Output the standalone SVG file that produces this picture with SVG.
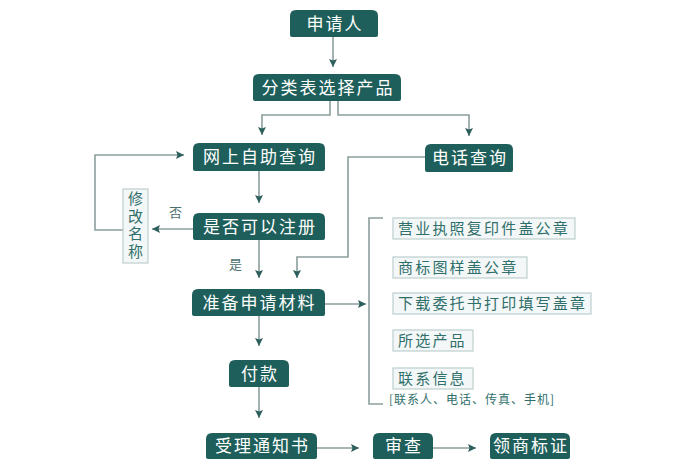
<svg xmlns="http://www.w3.org/2000/svg" width="700" height="470" viewBox="0 0 700 470">
<defs>
<style>
.box{fill:#1f5f5b}
.bt{fill:#ffffff;font-family:"Noto Sans CJK SC","Noto Sans",sans-serif;font-size:17px;letter-spacing:2px;text-anchor:middle}
.sub{fill:#f3f7f7;stroke:#bccfce;stroke-width:1.2}
.st{fill:#2f6f6b;font-family:"Noto Sans CJK SC","Noto Sans",sans-serif;font-size:15px;letter-spacing:2.2px}
.lbl{fill:#4b6f6c;font-family:"Noto Sans CJK SC","Noto Sans",sans-serif;font-size:13px}
.ln{fill:none;stroke:#8b9f9d;stroke-width:1.6}
.arr{marker-end:url(#ah)}
</style>
<marker id="ah" markerUnits="userSpaceOnUse" markerWidth="9" markerHeight="9" refX="8" refY="4.5" orient="auto">
<path d="M0,0.5 L8,4.5 L0,8.5 L1.5,4.5 Z" fill="#2c5f5c"/>
</marker>
</defs>
<rect width="700" height="470" fill="#ffffff"/>

<g id="connectors">
<path class="ln arr" d="M333,37 V67"/>
<path class="ln arr" d="M330,101 V115 H262 V135"/>
<path class="ln arr" d="M338,101 V115 H469 V136"/>
<path class="ln arr" d="M259,171 V203"/>
<path class="ln arr" d="M259,240 V278"/>
<path class="ln arr" d="M425,157 H348 V257 H297 V278"/>
<path class="ln arr" d="M193,229 H152"/>
<path class="ln arr" d="M123,230 H95 V155 H184"/>
<path class="ln arr" d="M325,304 H366"/>
<path class="ln" d="M383,218 H369 V404 H383"/>
<path class="ln arr" d="M259,316 V346"/>
<path class="ln arr" d="M259,387 V418"/>
<path class="ln arr" d="M317,448 H359"/>
<path class="ln arr" d="M433,448 H476"/>
<text class="lbl" x="169" y="217">否</text>
<text class="lbl" x="229" y="269">是</text>
</g>

<g id="n-applicant">
<path class="box" d="M290,35 V16 Q290,10 296,10 H372 Q378,10 378,16 V35 Q378,37 376,37 H292 Q290,37 290,35 Z"/>
<text class="bt" x="335" y="30">申请人</text>
</g>
<g id="n-classify">
<path class="box" d="M253,99 V80 Q253,74 259,74 H395 Q401,74 401,80 V99 Q401,101 399,101 H255 Q253,101 253,99 Z"/>
<text class="bt" x="328" y="93.5">分类表选择产品</text>
</g>
<g id="n-online">
<path class="box" d="M193,169 V149 Q193,143 199,143 H319 Q325,143 325,149 V169 Q325,171 323,171 H195 Q193,171 193,169 Z"/>
<text class="bt" x="260" y="163">网上自助查询</text>
</g>
<g id="n-phone">
<path class="box" d="M425,170 V150 Q425,144 431,144 H507 Q513,144 513,150 V170 Q513,172 511,172 H427 Q425,172 425,170 Z"/>
<text class="bt" x="470" y="164">电话查询</text>
</g>
<g id="n-check">
<path class="box" d="M193,238 V219 Q193,213 199,213 H319 Q325,213 325,219 V238 Q325,240 323,240 H195 Q193,240 193,238 Z"/>
<text class="bt" x="260" y="232.5">是否可以注册</text>
</g>
<g id="n-rename">
<rect class="sub" x="123" y="189" width="25" height="74"/>
<text class="st" style="writing-mode:vertical-rl;letter-spacing:2.5px" x="135.5" y="191">修改名称</text>
</g>
<g id="n-prepare">
<path class="box" d="M192,314 V295 Q192,289 198,289 H319 Q325,289 325,295 V314 Q325,316 323,316 H194 Q192,316 192,314 Z"/>
<text class="bt" x="259.5" y="308.5">准备申请材料</text>
</g>
<g id="n-materials">
<rect class="sub" x="393" y="218" width="182" height="21"/>
<text class="st" x="398" y="234">营业执照复印件盖公章</text>
<rect class="sub" x="393" y="257" width="134" height="21"/>
<text class="st" x="398" y="273">商标图样盖公章</text>
<rect class="sub" x="393" y="293" width="198" height="21"/>
<text class="st" x="398" y="309">下载委托书打印填写盖章</text>
<rect class="sub" x="393" y="330" width="80" height="21"/>
<text class="st" x="398" y="346">所选产品</text>
<rect class="sub" x="393" y="368" width="80" height="21"/>
<text class="st" x="398" y="384">联系信息</text>
<text class="st" style="font-size:12px;letter-spacing:1px" x="389" y="404">[联系人、电话、传真、手机]</text>
</g>
<g id="n-pay">
<path class="box" d="M229,385 V366 Q229,360 235,360 H283 Q289,360 289,366 V385 Q289,387 287,387 H231 Q229,387 229,385 Z"/>
<text class="bt" x="260" y="379.5">付款</text>
</g>
<g id="n-notice">
<path class="box" d="M206,457 V439 Q206,433 212,433 H311 Q317,433 317,439 V457 Q317,459 315,459 H208 Q206,459 206,457 Z"/>
<text class="bt" x="262.5" y="452">受理通知书</text>
</g>
<g id="n-review">
<path class="box" d="M373,457 V439 Q373,433 379,433 H427 Q433,433 433,439 V457 Q433,459 431,459 H375 Q373,459 373,457 Z"/>
<text class="bt" x="404" y="452">审查</text>
</g>
<g id="n-cert">
<path class="box" d="M490,457 V439 Q490,433 496,433 H564 Q570,433 570,439 V457 Q570,459 568,459 H492 Q490,459 490,457 Z"/>
<text class="bt" x="531" y="452">领商标证</text>
</g>
</svg>
